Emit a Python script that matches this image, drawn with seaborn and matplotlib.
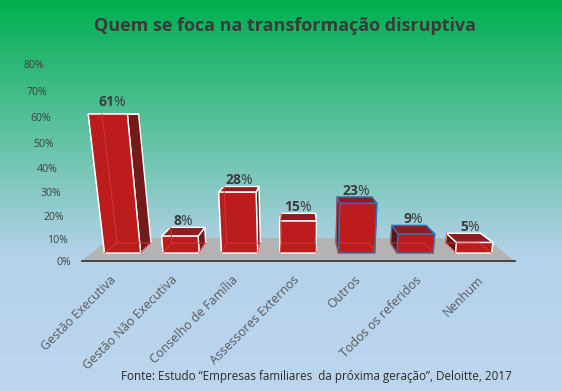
import numpy as np
import pandas as pd
import matplotlib
matplotlib.use("Agg")
import matplotlib.pyplot as plt
import seaborn as sns
from matplotlib.patches import Polygon
from matplotlib.transforms import IdentityTransform, ScaledTranslation

categories = ["Gestão Executiva", "Gestão Não Executiva", "Conselho de Família",
              "Assessores Externos", "Outros", "Todos os referidos", "Nenhum"]
values = [61, 8, 28, 15, 23, 9, 5]
edge_colors = ["white", "white", "white", "white", "#2e75b6", "#2e75b6", "white"]
y_ticks = [0, 10, 20, 30, 40, 50, 60, 70, 80]

W, H = 562, 391
FONT = "Open Sans"
plt.rcParams["font.family"] = FONT
plt.rcParams["mathtext.fontset"] = "custom"
plt.rcParams["mathtext.bf"] = FONT + ":bold"
plt.rcParams["mathtext.rm"] = FONT

df = pd.DataFrame({"cat": categories, "val": values})

fig = plt.figure(figsize=(W / 100, H / 100), dpi=100)

# background gradient
bg = fig.add_axes([0, 0, 1, 1], zorder=0)
rows = np.arange(H)
grad = np.stack([np.interp(rows, [0, 255, 390], [a, b, c]) for a, b, c in
                 [(0, 181, 189), (176, 210, 214), (80, 235, 238)]], axis=1) / 255
bg.imshow(grad[:, None, :], aspect="auto")
bg.axis("off")

ax = fig.add_axes([81.65 / W, (H - 261) / H, 432.9 / W, 197 / H], zorder=1)
ax.patch.set_alpha(0)
sns.barplot(data=df, x="cat", y="val", color="#bc1c1c", saturation=1, width=0.617, ax=ax)

# y axis gets stretched towards the top, like the 3d chart
ax.set_yscale("function", functions=(lambda v: 2.19 * v + 0.0034 * v ** 2,
                                     lambda p: (-2.19 + np.sqrt(np.maximum(2.19 ** 2 + 4 * 0.0034 * p, 0))) / (2 * 0.0034)))
ax.set_xlim(-0.7, 6.7)
ax.set_ylim(0, 80)
ax.set_yticks(y_ticks)
ax.set_yticklabels([f"{t}%" for t in y_ticks], fontsize=7.6, color="#404040")
ax.minorticks_off()
ax.set_xlabel("")
ax.set_ylabel("")
ax.tick_params(length=0)
sns.despine(ax=ax, left=True)
ax.spines["bottom"].set_color("#3c3c3c")
ax.spines["bottom"].set_linewidth(1.3)
ax.spines["bottom"].set_zorder(5)

# slanted tick labels
for t, lab in zip(y_ticks, ax.get_yticklabels()):
    dx = 71 - 0.3375 * t - 76.8
    lab.set_transform(lab.get_transform() + ScaledTranslation(dx / 100, 0, fig.dpi_scale_trans))

ax.set_xticks(range(len(categories)))
ax.set_xticklabels(categories, rotation=45, ha="right", rotation_mode="anchor",
                   fontsize=9, color="#595959")
for i, lab in enumerate(ax.get_xticklabels()):
    center = 122.6 + 58.5 * i
    dx = (center - 300) * 0.047 - 5
    lab.set_transform(lab.get_transform() + ScaledTranslation(dx / 100, -7.5 / 100, fig.dpi_scale_trans))

base_y = ax.transData.transform((0, 0))[1]
CX = 300


def project(px, py, d):
    hf = (py - base_y) * 0.95
    rise = 10 * (1 - hf / 142) * d
    sc = (1 + 0.0006 * hf) * (1 - 0.065 * d)
    return (CX + (px - CX) * sc, base_y + 8 + hf + rise)


def face(pts, **kw):
    ax.add_patch(Polygon(pts, closed=True, transform=IdentityTransform(), clip_on=False, **kw))


# floor
x0, x1 = ax.get_xlim()
fl = ax.transData.transform([(x0, 0), (x1, 0)])
fx0, fx1 = fl[0][0], fl[1][0]
face([(fx0, base_y), (fx1, base_y),
      (CX + (fx1 - CX) * 0.866, base_y + 23), (CX + (fx0 - CX) * 0.866, base_y + 23)],
     facecolor="#b3b3b3", edgecolor="none", zorder=2)

for bar, val, ec in zip(ax.patches, values, edge_colors):
    bar.set_visible(False)
    xa, xb = bar.get_x(), bar.get_x() + bar.get_width()
    (pa, py), (pb, _) = ax.transData.transform([(xa, val), (xb, val)])
    fbl, fbr = project(pa, base_y, 0), project(pb, base_y, 0)
    ftl, ftr = project(pa, py, 0), project(pb, py, 0)
    bbl, bbr = project(pa, base_y, 1), project(pb, base_y, 1)
    btl, btr = project(pa, py, 1), project(pb, py, 1)
    lw = 1.0
    face([fbl, bbl, btl, ftl], facecolor="#5f1515", edgecolor=ec, linewidth=lw, zorder=3)
    face([fbr, bbr, btr, ftr], facecolor="#741a1a", edgecolor=ec, linewidth=lw, zorder=3)
    face([ftl, ftr, btr, btl], facecolor="#8e1c20", edgecolor=ec, linewidth=lw, zorder=3)
    face([fbl, fbr, ftr, ftl], facecolor=bar.get_facecolor(), edgecolor=ec, linewidth=lw, zorder=4)
    # faint inner edges seen through the front
    inner = np.array([fbl, bbl, bbr, fbr])
    ax.plot(inner[:, 0], inner[:, 1], color="#d03a3a", lw=0.7, transform=IdentityTransform(),
            clip_on=False, zorder=4.2)
    inner = np.array([bbl, btl])
    ax.plot(inner[:, 0], inner[:, 1], color="#d03a3a", lw=0.7, transform=IdentityTransform(),
            clip_on=False, zorder=4.2)
    # value label above the top face
    hf = (py - base_y) * 0.95
    cx = CX + ((pa + pb) / 2 - CX) * (1 + 0.0006 * hf) * 0.975
    top = max(btl[1], ftl[1])
    gap = 8 if val > 50 else 2
    ax.annotate(rf"$\mathbf{{{val}}}$%", xy=(cx, top + gap), xycoords=IdentityTransform(),
                ha="center", va="baseline", fontsize=10, color="#3c3c3c", zorder=6, annotation_clip=False)

fig.text(285.5 / W, 1 - 31 / H, "Quem se foca na transformação disruptiva", ha="center", va="baseline",
         fontsize=13, fontweight="bold", color="#3b3b3b")
fig.text(512 / W, 1 - 380 / H, "Fonte: Estudo “Empresas familiares  da próxima geração”, Deloitte, 2017",
         ha="right", va="baseline", fontsize=8.4, color="#2b2b2b")

fig.savefig("out.png", dpi=100)
